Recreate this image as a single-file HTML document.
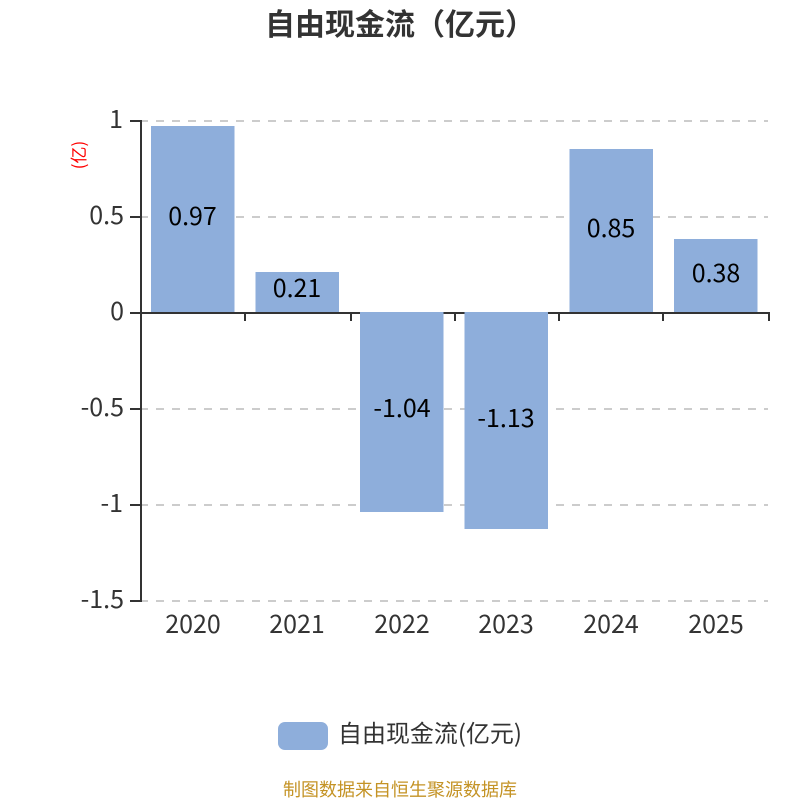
<!DOCTYPE html>
<html><head><meta charset="utf-8"><style>
html,body{margin:0;padding:0;background:#fff}
svg{display:block}
text{font-family:"Noto Sans CJK SC","Liberation Sans",sans-serif}
</style></head><body>
<svg width="800" height="800" viewBox="0 0 800 800" xmlns="http://www.w3.org/2000/svg">
<rect width="800" height="800" fill="#fff"/>
<text x="265" y="35" font-size="30" font-weight="700" fill="#333">自由现金流（亿元）</text>
<g stroke="#ccc" stroke-width="2" stroke-dasharray="8 8">
<line x1="140" y1="121" x2="768" y2="121"/>
<line x1="140" y1="217" x2="768" y2="217"/>
<line x1="140" y1="409" x2="768" y2="409"/>
<line x1="140" y1="505" x2="768" y2="505"/>
<line x1="140" y1="601" x2="768" y2="601"/>
</g>
<g fill="#8eaedb">
<rect x="151" y="126" width="83.5" height="187"/>
<rect x="255.5" y="272" width="83.5" height="41"/>
<rect x="569.5" y="149" width="83.5" height="164"/>
<rect x="674" y="239" width="83.5" height="74"/>
</g>
<g stroke="#333" stroke-width="2" fill="none">
<line x1="141" y1="120" x2="141" y2="602"/>
<line x1="130" y1="121" x2="141" y2="121"/>
<line x1="130" y1="217" x2="141" y2="217"/>
<line x1="130" y1="313" x2="141" y2="313"/>
<line x1="130" y1="409" x2="141" y2="409"/>
<line x1="130" y1="505" x2="141" y2="505"/>
<line x1="130" y1="601" x2="141" y2="601"/>
<line x1="141" y1="313" x2="770" y2="313"/>
<line x1="245" y1="313" x2="245" y2="321"/>
<line x1="351" y1="313" x2="351" y2="321"/>
<line x1="455" y1="313" x2="455" y2="321"/>
<line x1="559" y1="313" x2="559" y2="321"/>
<line x1="663" y1="313" x2="663" y2="321"/>
<line x1="769" y1="313" x2="769" y2="321"/>
</g>
<g fill="#8eaedb">
<rect x="360" y="312" width="83.5" height="200"/>
<rect x="464.5" y="312" width="83.5" height="217"/>
</g>
<g font-size="25" fill="#333" text-anchor="end">
<text x="123" y="128">1</text>
<text x="124" y="224">0.5</text>
<text x="124" y="320">0</text>
<text x="124" y="416">-0.5</text>
<text x="123" y="512">-1</text>
<text x="124" y="608">-1.5</text>
</g>
<g font-size="25" fill="#333" text-anchor="middle">
<text x="193" y="633">2020</text>
<text x="297" y="633">2021</text>
<text x="402" y="633">2022</text>
<text x="506" y="633">2023</text>
<text x="611" y="633">2024</text>
<text x="716" y="633">2025</text>
</g>
<g font-size="25" fill="#000" text-anchor="middle">
<text x="192.5" y="225">0.97</text>
<text x="297" y="297">0.21</text>
<text x="402" y="417">-1.04</text>
<text x="506" y="427">-1.13</text>
<text x="611" y="237">0.85</text>
<text x="716" y="282">0.38</text>
</g>
<text transform="translate(85,155) rotate(-90)" font-size="17" fill="#f00" text-anchor="middle">(亿)</text>
<rect x="278" y="722" width="50" height="28" rx="7" ry="7" fill="#8eaedb"/>
<text x="338" y="742" font-size="24" fill="#333" textLength="184" lengthAdjust="spacingAndGlyphs">自由现金流(亿元)</text>
<text x="400" y="796" font-size="18" fill="#c49325" text-anchor="middle">制图数据来自恒生聚源数据库</text>
</svg>
</body></html>
